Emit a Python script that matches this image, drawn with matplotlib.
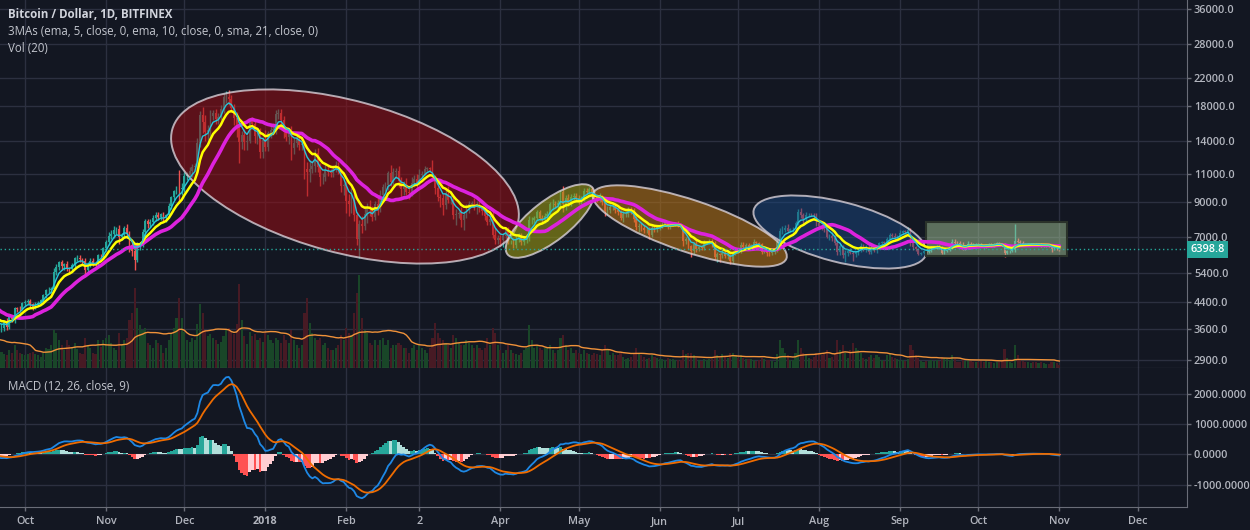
import numpy as np
import pandas as pd
import matplotlib
matplotlib.use('Agg')
import matplotlib.pyplot as plt
import matplotlib.dates as mdates
from matplotlib.patches import Ellipse, Rectangle
from matplotlib.transforms import IdentityTransform, blended_transform_factory
from matplotlib.ticker import NullLocator

# ---------------- data (daily, Bitfinex BTC/USD, from 2017-08-01) ----------------
close = [
    # Aug 2017
    2730, 2700, 2800, 2870, 3250, 3220, 3390, 3420, 3340, 3420, 3650, 3850, 4060, 4320, 4150, 4380,
    4280, 4110, 4190, 4090, 4000, 4090, 4150, 4330, 4370, 4350, 4350, 4390, 4600, 4580, 4740,
    # Sep 2017
    4950, 4580, 4630, 4300, 4430, 4630, 4650, 4300, 4320, 4230, 4200, 4150, 3870, 3240, 3700,
    3700, 3710, 4100, 3910, 3880, 3600, 3630, 3790, 3660, 3930, 3880, 4200, 4180, 4170, 4340,
    # Oct 2017
    4400, 4410, 4310, 4220, 4330, 4370, 4440, 4610, 4780, 4780, 4830, 5440, 5640, 5830, 5690, 5760,
    5600, 5570, 5710, 6000, 6010, 5980, 5900, 5520, 5750, 5900, 5780, 5750, 6150, 6130, 6450,
    # Nov 2017
    6740, 7030, 7160, 7380, 7400, 7000, 7120, 7450, 7150, 6600, 6340, 5950, 6560, 6630, 7270,
    7830, 7700, 7790, 8040, 8200, 8070, 8240, 8010, 8200, 8750, 9300, 9720, 9880, 9850, 9950,
    # Dec 2017
    10850, 10920, 11250, 11600, 11660, 13750, 16850, 16050, 14840, 15100, 16730, 17100, 16400, 16560,
    17600, 19100, 19200, 18900, 17700, 16500, 15600, 13900, 14600, 13900, 14000, 16100, 15800, 14500,
    14700, 12900, 14100,
    # Jan 2018
    13400, 14750, 15150, 15150, 16900, 17100, 16200, 14900, 14400, 14900, 13250, 13800, 14200, 13600,
    13600, 11400, 11200, 11400, 11650, 12800, 11550, 10750, 10800, 11350, 11150, 11100, 11400, 11750,
    11200, 10100, 10150,
    # Feb 2018
    9050, 8850, 9200, 8200, 6900, 7700, 7600, 8250, 8700, 8550, 8100, 8900, 8550, 9500, 10050, 10200,
    11100, 10400, 11150, 11250, 10450, 9850, 10200, 9650, 9600, 10350, 10600, 10350,
    # Mar 2018
    10950, 11050, 11450, 11500, 11450, 10750, 9950, 9350, 9250, 8800, 9550, 9150, 9150, 8200, 8250,
    8300, 7900, 8200, 8600, 8900, 8900, 8700, 8900, 8550, 8450, 8150, 7800, 7950, 7100, 6850, 6950,
    # Apr 2018
    6850, 7050, 7400, 6800, 6800, 6600, 6900, 7050, 6750, 6850, 6950, 7900, 7900, 8000, 8350,
    8050, 7900, 8150, 8250, 8850, 8900, 8800, 8950, 9650, 8850, 9250, 8950, 9350, 9400, 9250,
    # May 2018
    9050, 9230, 9750, 9700, 9850, 9650, 9350, 9200, 9300, 9000, 8450, 8500, 8700, 8700, 8480, 8350,
    8050, 8250, 8250, 8520, 8400, 7980, 7500, 7570, 7480, 7350, 7350, 7120, 7470, 7400, 7500,
    # Jun 2018
    7530, 7640, 7720, 7500, 7630, 7660, 7690, 7620, 7500, 6780, 6880, 6550, 6310, 6640, 6400,
    6500, 6460, 6700, 6740, 6760, 6720, 6050, 6180, 6150, 6250, 6090, 6150, 5880, 6220, 6390,
    # Jul 2018
    6360, 6620, 6510, 6590, 6530, 6600, 6750, 6700, 6660, 6300, 6390, 6250, 6230, 6270, 6350, 6730,
    7320, 7380, 7480, 7330, 7400, 7400, 7720, 8400, 8170, 7940, 8200, 8220, 8210, 8180, 7730,
    # Aug 2018
    7600, 7530, 7400, 7000, 7030, 6950, 6720, 6280, 6540, 6150, 6240, 6330, 6260, 6200, 6280, 6330,
    6580, 6400, 6500, 6270, 6480, 6360, 6530, 6700, 6740, 6710, 6920, 7080, 7040, 6980, 7020,
    # Sep 2018
    7200, 7300, 7280, 7370, 6750, 6510, 6410, 6200, 6240, 6320, 6280, 6340, 6500, 6500, 6530,
    6500, 6250, 6350, 6400, 6500, 6750, 6720, 6710, 6600, 6450, 6470, 6680, 6620, 6600, 6630,
    # Oct 2018
    6620, 6560, 6510, 6610, 6640, 6600, 6630, 6690, 6650, 6620, 6260, 6320, 6330, 6360, 6800, 6760,
    6720, 6650, 6640, 6650, 6660, 6640, 6630, 6640, 6600, 6600, 6610, 6600, 6420, 6430, 6420,
    # Nov 2018
    6398.8,
]

# upper / lower wick beyond the candle body, in percent
wick_up = [
    2,2,3,2,3,4,2,2,3,2, 2,3,2,3,4,1,3,4,2,3, 2,2,2,1,2,1,1,1,1,3, 1,
    1,3,2,2,2,1,1,2,2,1, 2,2,3,4,1,3,2,1,3,2, 2,4,1,3,1,2,1,1,2,1,
    1,2,2,1,1,1,1,1,1,2, 1,3,2,1,2,1,2,1,2,1, 2,2,1,2,2,2,2,1,1,1, 1,
    2,3,3,3,2,3,1,2,3,2, 3,4,3,2,2,2,2,2,2,2, 2,1,2,1,2,1,1,2,15,4,
    3,2,3,2,2,4,3,6,5,4, 4,2,3,3,3,3,4,5,3,3, 4,3,3,4,4,2,3,3,3,4, 2,
    7,2,3,5,3,3,3,3,3,2, 4,3,3,4,2,3,5,7,4,3, 4,3,3,4,3,2,3,3,2,2, 2,
    3,5,8,4,2,3,6,6,3,5, 2,2,4,3,2,2,1,6,3,2, 4,3,3,5,3,4,3,4,
    4,2,2,1,1,6,2,4,2,3, 3,6,4,4,4,2,5,3,3,2, 2,4,2,2,2,2,3,3,6,5, 2,
    2,2,2,2,1,2,2,2,2,2, 3,3,2,2,2,2,2,2,2,2, 3,2,2,2,5,2,3,2,2,2,
    2,2,2,2,2,2,2,2,3,2, 2,3,2,2,2,2,2,2,2,2, 2,3,2,2,2,2,2,2,2,2, 2,
    2,2,1,2,2,2,1,2,1,1, 2,1,1,2,4,1,1,2,1,2, 2,1,2,1,3,2,2,1,2,2,
    1,2,2,2,2,1,2,1,1,1, 1,1,1,1,2,2,2,3,2,3, 1,2,2,2,3,2,2,1,1,1, 2,
    1,1,1,1,2,3,2,2,2,1, 2,1,2,1,1,2,2,1,2,2, 2,2,1,1,1,1,1,2,2,2, 1,
    2,1,1,2,1,2,1,1,1,1, 2,1,1,1,1,1,1,1,1,1, 2,2,1,1,2,1,2,1,1,1,
    1,1,1,1,1,1,1,1,1,1, 1,1,1,1,13,2,1,1,1,1, 1,1,1,1,1,1,1,1,1,1, 1,
    1,
]
wick_dn = [
    2,3,1,1,2,4,2,3,4,1, 1,2,2,2,6,3,2,2,3,4, 2,2,3,1,2,1,1,1,2,2, 2,
    2,4,3,4,2,1,2,3,2,3, 2,2,2,4,8,4,3,2,2,2, 2,2,2,2,1,2,3,2,2,1,
    2,2,2,2,1,1,1,1,2,2, 2,1,2,2,3,3,2,3,2,2, 2,2,2,4,2,2,2,1,1,2, 1,
    2,2,2,3,3,5,2,2,3,5, 4,7,2,3,2,3,3,2,2,2, 2,2,2,3,2,2,2,2,9,4,
    3,3,3,4,3,3,3,8,6,5, 4,3,4,4,2,3,4,4,3,5, 8,14,5,6,6,2,4,5,6,4, 4,
    3,3,3,4,3,3,3,4,3,5, 8,4,3,4,4,7,16,7,3,4, 3,6,5,3,3,3,3,2,2,4, 6,
    8,8,6,4,4,13,5,3,6,5, 3,2,4,2,2,3,4,3,2,4, 4,5,4,2,4,2,3,4,
    2,2,1,2,2,2,4,3,6,7, 3,2,3,3,7,3,5,7,2,3, 2,2,5,2,3,3,2,2,2,3, 3,
    4,5,2,2,2,2,2,2,2,2, 2,2,3,2,1,2,2,2,2,2, 4,2,2,3,5,4,2,2,2,2,
    2,2,2,2,2,2,2,2,2,2, 4,3,2,2,2,2,2,3,2,2, 2,2,2,3,2,2,2,3,2,2, 2,
    2,1,1,1,1,1,1,1,1,3, 2,2,4,2,2,1,1,1,1,1, 3,2,3,5,2,1,2,2,1,1,
    2,2,1,2,2,2,1,1,1,2, 1,2,2,1,1,1,2,2,2,1, 1,2,2,1,2,3,2,1,1,2, 2,
    2,2,2,1,2,2,2,2,2,2, 5,2,1,5,2,2,1,1,2,1, 1,1,2,1,1,1,1,1,1,2, 1,
    1,1,2,1,3,2,1,1,1,1, 1,1,1,1,1,1,1,1,1,1, 1,1,1,1,1,1,1,1,1,1,
    1,1,1,1,1,1,1,1,1,1, 3,1,1,1,1,1,1,1,1,1, 1,1,1,1,1,1,1,1,2,1, 1,
    1,
]

# daily volume, thousands of BTC
volume = [
    45,42,40,38,60,45,48,50,55,42, 55,62,70,75,68,58,52,50,40,38, 45,42,38,40,36,28,25,35,50,45, 48,
    60,55,48,70,55,45,38,50,40,45, 40,45,65,130,140,50,40,60,38,30, 35,32,28,25,35,30,45,35,30,28,
    25,28,30,32,28,25,22,30,40,38, 45,75,70,55,45,35,55,45,40,50, 38,30,28,60,45,40,30,28,55,42, 55,
    60,65,50,40,35,70,45,55,60,95, 110,160,120,85,75,80,50,45,40,55, 50,45,30,40,55,70,80,100,140,100,
    72,56,52,60,56,88,128,110,76,64, 68,60,56,48,52,64,76,80,72,68, 88,168,96,64,48,72,64,68,56,60, 52,
    70,65,55,50,60,55,50,65,55,50, 75,55,45,40,45,110,140,90,70,60, 55,60,45,50,40,35,35,40,45,65, 55,
    80,70,65,110,150,185,100,75,70,50, 45,55,45,55,60,45,55,40,45,45, 50,45,40,40,30,40,45,35,
    45,40,35,30,40,60,90,70,60,55, 50,45,40,65,60,50,45,45,55,50, 45,40,45,40,35,40,60,45,80,70, 45,
    35,30,35,45,35,30,28,25,30,35, 40,85,55,40,45,40,35,40,40,45, 35,30,35,60,65,45,35,40,30,35,
    30,28,35,30,28,25,30,28,25,35, 45,35,25,30,25,25,30,22,18,20, 22,30,40,30,25,22,18,20,25,22, 20,
    18,17,15,20,18,17,15,16,15,35, 28,30,30,25,20,15,14,18,16,17, 18,35,25,20,28,22,20,30,30,25,
    20,25,20,18,18,17,15,14,15,20, 18,16,15,14,12,28,55,40,30,25, 15,15,30,55,40,30,25,20,18,22, 30,
    30,25,28,35,20,22,30,55,35,45, 30,20,35,50,40,35,30,20,18,22, 25,20,25,22,15,14,25,28,22,20, 18,
    15,16,14,18,45,35,25,20,14,12, 14,13,15,14,15,13,22,20,17,15, 25,17,12,11,15,14,15,14,11,12,
    12,14,12,13,12,11,10,11,12,14, 38,20,11,10,45,25,16,13,12,11, 10,11,12,10,11,9,7,8,12,11, 10,
    6,
]

price_levels = [2900, 3600, 4400, 5400, 7000, 9000, 11000, 14000, 18000, 22000, 28000, 36000]
macd_levels = [-1000, 0, 1000, 2000]
month_ticks = ['2017-10-01', '2017-11-01', '2017-12-01', '2018-01-01', '2018-02-01', '2018-03-01',
               '2018-04-01', '2018-05-01', '2018-06-01', '2018-07-01', '2018-08-01', '2018-09-01',
               '2018-10-01', '2018-11-01', '2018-12-01']
month_labels = ['Oct', 'Nov', 'Dec', '2018', 'Feb', '2', 'Apr', 'May', 'Jun', 'Jul', 'Aug', 'Sep',
                'Oct', 'Nov', 'Dec']

# drawings: (center date, center price, half-length px, half-width px, angle deg, face, alpha)
ellipses = [
    ('2018-01-31 12:00', 10814, 179, 76, -15.2, (0.60, 0.05, 0.08), 0.55),
    ('2018-04-20', 7853, 54, 20, 38.0, (0.60, 0.60, 0.08), 0.60),
    ('2018-06-12 12:00', 7576, 102, 26, -18.5, (0.75, 0.47, 0.08), 0.55),
    ('2018-08-09', 7256, 89, 30, -14.4, (0.10, 0.28, 0.50), 0.50),
]
box = ('2018-09-11', '2018-11-04', 6106, 7797)

# ---------------- derived series ----------------
n = min(len(close), len(wick_up), len(wick_dn), len(volume))
c = np.array(close[:n], float)
o = np.r_[c[0], c[:-1]]
hi = np.maximum(o, c) * (1 + np.array(wick_up[:n]) / 100.0)
lo = np.minimum(o, c) * (1 - np.array(wick_dn[:n]) / 100.0)
vol = np.array(volume[:n], float)
dates = pd.date_range('2017-08-01', periods=n, freq='D')
x = mdates.date2num(dates)
up = c >= o

s = pd.Series(c)
ema5 = s.ewm(span=5, adjust=False).mean().values
ema10 = s.ewm(span=10, adjust=False).mean().values
sma21 = s.rolling(21).mean().values
macd = (s.ewm(span=12, adjust=False).mean() - s.ewm(span=26, adjust=False).mean())
signal = macd.ewm(span=9, adjust=False).mean()
hist = (macd - signal).values
macd = macd.values
signal = signal.values
volma = pd.Series(vol).rolling(20).mean().values

# ---------------- style ----------------
BG = '#131722'
GRID = '#2c3040'
AXIS = '#6a6d78'
TXT = '#b2b5be'
UP = '#26a69a'
DN = '#ef5350'
plt.rcParams['font.family'] = ['Open Sans', 'DejaVu Sans']

W, H = 1250, 530
fig = plt.figure(figsize=(W / 100, H / 100), dpi=100, facecolor=BG)

MAIN_B = 367.5
MACD_B = 506.7
RIGHT = 1187
x0 = mdates.date2num(pd.Timestamp('2017-10-01'))
PPD = 2.612
xlim = (x0 - 25 / PPD, x0 + (RIGHT - 25) / PPD)
ylim = (2739, 38470)
VOL_TOP = 735

rect_main = [0, (H - MAIN_B) / H, RIGHT / W, MAIN_B / H]
axv = fig.add_axes(rect_main, facecolor=BG)
ax = fig.add_axes(rect_main)
ax.patch.set_visible(False)
axm = fig.add_axes([0, (H - MACD_B) / H, RIGHT / W, (MACD_B - MAIN_B) / H], facecolor=BG)

mt = mdates.date2num(pd.to_datetime(month_ticks))

# --- volume layer + grid (bottom) ---
axv.set_xlim(*xlim)
axv.set_ylim(0, VOL_TOP)
ax.set_yscale('log')
ax.set_xlim(*xlim)
ax.set_ylim(*ylim)
gtr = blended_transform_factory(axv.transAxes, ax.transData)
for p in price_levels:
    axv.plot([0, 1], [p, p], transform=gtr, color=GRID, lw=1, zorder=0)
for m in mt:
    axv.axvline(m, color=GRID, lw=1, zorder=0)
axv.bar(x, vol, width=0.8, color=np.where(up, '#194628', '#471a24'), linewidth=0, zorder=1)
axv.plot(x, volma, color='#f0923a', lw=1, zorder=2)
axv.set_xticks([])
axv.set_yticks([])
for sp in axv.spines.values():
    sp.set_visible(False)

# --- candles ---
ax.vlines(x, lo, hi, colors=np.where(up, UP, DN), lw=1, zorder=2)
body_h = np.maximum(np.abs(c - o), c * 0.0015)
ax.bar(x, body_h, bottom=np.minimum(o, c), width=0.7, color=np.where(up, UP, DN),
       linewidth=0, zorder=2)

# --- drawings ---
for d, p, a, b, ang, fc, al in ellipses:
    cx, cy = ax.transData.transform((mdates.date2num(pd.Timestamp(d)), p))
    e = Ellipse((cx, cy), 2 * a, 2 * b, angle=ang, transform=IdentityTransform(),
                facecolor=(*fc, al), edgecolor=(0.85, 0.82, 0.85, 0.8), lw=1.4, zorder=3)
    ax.add_artist(e)
bx0 = mdates.date2num(pd.Timestamp(box[0]))
bx1 = mdates.date2num(pd.Timestamp(box[1]))
ax.add_patch(Rectangle((bx0, box[2]), bx1 - bx0, box[3] - box[2],
                       facecolor=(0.65, 0.78, 0.60, 0.5), edgecolor='#2a322a', lw=1.5, zorder=3))

# --- moving averages ---
ax.plot(x, sma21, color='#dd22dd', lw=2.6, zorder=4, solid_capstyle='round')
ax.plot(x, ema10, color='#ffff00', lw=1.8, zorder=5)
ax.plot(x, ema5, color='#26c6da', lw=1.0, zorder=6)

# current price
last = c[-1]
ax.axhline(last, color='#26a69a', lw=1, ls=(0, (1, 2)), zorder=6)
ax.annotate(f'{last:.1f}', xy=(1, last), xycoords=('axes fraction', 'data'),
            xytext=(2.3, 0), textcoords='offset points', ha='left', va='center',
            fontsize=7.8, color='white', fontweight='semibold',
            bbox=dict(boxstyle='square,pad=0.3', fc='#26a69a', ec='none'),
            annotation_clip=False, zorder=10)

ax.set_yticks(price_levels)
ax.set_yticklabels([f'{v:.1f}' for v in price_levels], fontweight='semibold')
ax.yaxis.set_minor_locator(NullLocator())
ax.yaxis.tick_right()
ax.tick_params(axis='y', which='both', direction='out', length=3, width=1, color=AXIS,
               labelcolor=TXT, labelsize=7.8, pad=2)
ax.set_xticks([])
for k, sp in ax.spines.items():
    sp.set_visible(k in ('right', 'bottom'))
    sp.set_color(AXIS)

# --- MACD pane ---
axm.set_xlim(*xlim)
axm.set_ylim(-1729, 2865)
for p in macd_levels:
    axm.axhline(p, color=GRID, lw=1, zorder=0)
for m in mt:
    axm.axvline(m, color=GRID, lw=1, zorder=0)
prev = np.r_[hist[0], hist[:-1]]
hcol = np.where(hist >= 0, np.where(hist >= prev, '#26a69a', '#b2dfdb'),
                np.where(hist < prev, '#ff5252', '#ffcdd2'))
axm.bar(x, hist, width=1.0, color=hcol, linewidth=0, zorder=1)
axm.plot(x, macd, color='#1e88e5', lw=1.3, zorder=2)
axm.plot(x, signal, color='#ef6c00', lw=1.3, zorder=3)
axm.yaxis.tick_right()
axm.set_yticks(macd_levels)
axm.set_yticklabels([f'{v:.4f}' for v in macd_levels], fontweight='semibold')
axm.set_xticks(mt)
axm.set_xticklabels(month_labels, fontweight='semibold')
for lab in axm.get_xticklabels():
    if lab.get_text() == '2018':
        lab.set_fontweight('bold')
axm.tick_params(axis='y', direction='out', length=3, width=1, color=AXIS,
                labelcolor=TXT, labelsize=7.8, pad=2)
axm.tick_params(axis='x', direction='out', length=3, width=1, color=AXIS,
                labelcolor=TXT, labelsize=7.8, pad=4)
for k, sp in axm.spines.items():
    sp.set_visible(k in ('right', 'bottom'))
    sp.set_color(AXIS)

# --- legends / titles ---
fig.text(8 / W, 1 - 14 / H, 'Bitcoin / Dollar, 1D, BITFINEX', fontsize=8.3, fontweight='bold',
         color='#d1d4dc', va='center', ha='left')
fig.text(8 / W, 1 - 31.5 / H, '3MAs (ema, 5, close, 0, ema, 10, close, 0, sma, 21, close, 0)',
         fontsize=8.3, color='#c3c6ce', va='center', ha='left')
fig.text(8 / W, 1 - 48.5 / H, 'Vol (20)', fontsize=8.3, color='#c3c6ce', va='center', ha='left')
fig.text(8 / W, 1 - 386 / H, 'MACD (12, 26, close, 9)', fontsize=8.3, color='#c3c6ce',
         va='center', ha='left')

fig.savefig('out.png', dpi=100, facecolor=BG)
